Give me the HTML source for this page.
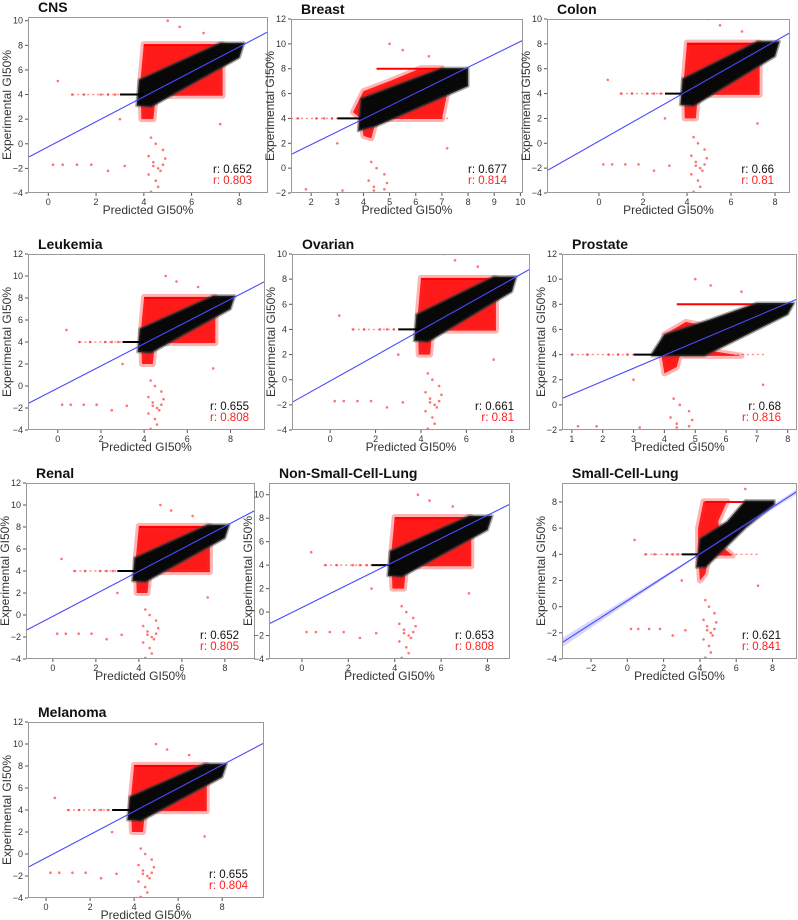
<!DOCTYPE html>
<html><head><meta charset="utf-8"><style>
html,body{margin:0;padding:0;background:#fff;}
svg{display:block;font-family:"Liberation Sans",sans-serif;}
</style></head><body>
<svg id="fig" width="798" height="920" viewBox="0 0 798 920" xmlns="http://www.w3.org/2000/svg"></svg>
<script>
// ---- data ----
const panelNames = ["CNS","Breast","Colon","Leukemia","Ovarian","Prostate","Renal","Non-Small-Cell-Lung","Small-Cell-Lung","Melanoma"];
const rBlack = ["0.652","0.677","0.66","0.655","0.661","0.68","0.652","0.653","0.621","0.655"];
const rRed = ["0.803","0.814","0.81","0.808","0.81","0.816","0.805","0.808","0.841","0.804"];
const xRanges = [[-0.85,9.2],[1.23,10.1],[-2.36,8.68],[-1.38,9.6],[-1.68,8.8],[0.68,8.3],[-1.25,9.4],[-1.42,8.97],[-3.6,9.35],[-0.82,9.9]];
const yRanges = [[-4,10.3],[-2,12],[-4,10],[-4,12],[-4,10],[-2,12],[-4,12],[-4,11],[-4,9.45],[-4,12]];
const xTicks = [[0,2,4,6,8],[2,3,4,5,6,7,8,9,10],[0,2,4,6,8],[0,2,4,6,8],[0,2,4,6,8],[1,2,3,4,5,6,7,8],[0,2,4,6,8],[0,2,4,6,8],[-2,0,2,4,6,8],[0,2,4,6,8]];
const yTicks = [[-4,-2,0,2,4,6,8,10],[-2,0,2,4,6,8,10,12],[-4,-2,0,2,4,6,8,10],[-4,-2,0,2,4,6,8,10,12],[-4,-2,0,2,4,6,8,10],[-2,0,2,4,6,8,10,12],[-4,-2,0,2,4,6,8,10,12],[-4,-2,0,2,4,6,8,10],[-4,-2,0,2,4,6,8],[-4,-2,0,2,4,6,8,10,12]];
const fitSlope = [1.015,1.037,1.005,1.011,1.011,1.037,1.023,0.982,0.892,1.054];
const fitIntercept = [-0.24,-0.18,0.17,-0.2,-0.1,-0.2,-0.12,0.39,0.46,-0.34];
// cloud outlines (data coords)
const redCloud = [[3.9,2.0],[4.4,2.0],[4.5,3.9],[7.3,3.9],[7.3,8.1],[4.0,8.1],[3.85,5.0]];
const blackCloud = [[3.7,3.1],[4.3,3.0],[8.0,7.0],[8.2,8.2],[7.2,8.2],[3.8,5.2]];
const redCloudBreast = [[4,2.6],[4.3,2.4],[4.5,3.95],[7,3.95],[7.2,6],[7,8.05],[6.2,8.05],[5,7],[4,6.2],[3.6,4.5],[3.9,4]];
const blackCloudBreast = [[3.8,3.0],[4.5,3.4],[8,6.6],[8,8.05],[7,8.05],[3.9,5.6]];
const redCloudProstate = [[4,2.5],[4.4,3],[4.5,3.9],[6.5,3.9],[5.5,4.3],[5.5,6.2],[4.7,6.6],[4.0,5.6],[3.9,4]];
const blackCloudProstate = [[3.6,3.9],[5.3,3.9],[8.0,7.2],[8.2,8.1],[7.0,8.1],[5.5,6.8],[4.0,5.6],[3.6,4.1]];
const redCloudSCLC = [[4,2],[4.3,2.5],[4.5,3.9],[5.8,3.9],[5.3,4.5],[5,6.5],[5.5,8.05],[4.2,8.05],[3.9,6],[3.9,4]];
const blackCloudSCLC = [[3.8,3.0],[4.3,3.0],[6.5,6],[8.1,7.8],[8.1,8.1],[6.5,8.1],[5.5,6.5],[4,5.2]];
const outliersX = [4.2,4.4,4.6,4.8,4.3,4.5,4.7,4.4,4.6,4.9,4.2,4.5,4.3,4.8,0.2,0.6,1.2,1.8,2.5,3.2,1.0,1.5,2.2,2.8,0.4,5.5,6.5,7.2,3.0,2.5,5.0,4.1];
const outliersY = [-1.0,-1.5,-2.0,-0.5,0.5,-3.0,-2.2,-1.8,-3.5,-1.2,-2.5,0.0,-3.9,-1.7,-1.7,-1.7,-1.7,-1.7,-2.2,-1.8,4.0,4.0,4.0,4.0,5.1,9.5,9.0,1.6,2.0,4.0,10.0,-4.0];

// ---- layout ----
const boxes = [[28,17,268,193],[291,19,523,193],[547,19,790,193],[28,254,265,430],[292,254,530,430],[562,254,797,430],[26,483,255,659],[269,483,510,659],[562,483,797,659],[28,722,264,898]];
const svg = document.getElementById('fig');
const NS = 'http://www.w3.org/2000/svg';
function mk(tag, attrs, parent){ const e=document.createElementNS(NS,tag); for(const k in attrs) e.setAttribute(k,attrs[k]); (parent||svg).appendChild(e); return e; }

panelNames.forEach((name,i)=>{
  const [x0,y0,x1,y1]=boxes[i], [xa,xb]=xRanges[i], [ya,yb]=yRanges[i];
  const sx=v=>x0+(v-xa)/(xb-xa)*(x1-x0);
  const sy=v=>y1-(v-ya)/(yb-ya)*(y1-y0);
  const g=mk('g',{});
  
  
  const clipId='c'+i;
  const cp=mk('clipPath',{id:clipId},g); mk('rect',{x:x0,y:y0,width:x1-x0,height:y1-y0},cp);
  const plot=mk('g',{'clip-path':'url(#'+clipId+')'},g);
  let rc=redCloud, bc=blackCloud, r8s=4.0, r8e=7.3;
  if(name==='Breast'){rc=redCloudBreast;bc=blackCloudBreast;r8s=4.5;r8e=7.0;}
  if(name==='Prostate'){rc=redCloudProstate;bc=blackCloudProstate;r8s=4.4;r8e=7.0;}
  if(name==='Small-Cell-Lung'){rc=redCloudSCLC;bc=blackCloudSCLC;r8s=4.3;r8e=6.8;}
  outliersX.forEach((ox,k)=>{
    const c=mk('circle',{cx:sx(ox),cy:sy(outliersY[k]),r:1.3,fill:'rgba(255,0,0,0.55)'},plot);
    
    
  });
  const rl=mk('line',{x1:sx(Math.max(xa,1.0)),x2:sx(7.3),y1:sy(4),y2:sy(4),stroke:'rgba(255,0,0,0.45)','stroke-width':1.4,'stroke-dasharray':'2 3'},plot);
   
  const rp=mk('polygon',{points:rc.map(p=>sx(p[0])+','+sy(p[1])).join(' '),fill:'#ff1a1a',stroke:'rgba(255,40,40,0.35)','stroke-width':6,'stroke-linejoin':'round'},plot);
  
  
  const r8=mk('line',{x1:sx(r8s),x2:sx(r8e),y1:sy(8),y2:sy(8),stroke:'#ff0000','stroke-width':2},plot);
   
  const bp=mk('polygon',{points:bc.map(p=>sx(p[0])+','+sy(p[1])).join(' '),fill:'#080808',stroke:'rgba(60,60,60,0.45)','stroke-width':3,'stroke-linejoin':'round'},plot);
  
  
  const bl=mk('line',{x1:sx(3.0),x2:sx(4.0),y1:sy(4),y2:sy(4),stroke:'#000','stroke-width':2},plot);
   
  if(name==='Small-Cell-Lung'){
    const band=mk('polygon',{points:[sx(xa)+','+sy(fitSlope[i]*xa+fitIntercept[i]+0.35),sx(4)+','+sy(fitSlope[i]*4+fitIntercept[i]+0.05),sx(xb)+','+sy(fitSlope[i]*xb+fitIntercept[i]+0.2),sx(xb)+','+sy(fitSlope[i]*xb+fitIntercept[i]-0.2),sx(4)+','+sy(fitSlope[i]*4+fitIntercept[i]-0.05),sx(xa)+','+sy(fitSlope[i]*xa+fitIntercept[i]-0.35)].join(' '),fill:'rgba(90,90,255,0.25)'},plot);
     
  }
  const fl=mk('line',{x1:sx(xa),y1:sy(fitSlope[i]*xa+fitIntercept[i]),x2:sx(xb),y2:sy(fitSlope[i]*xb+fitIntercept[i]),stroke:'#4a4aff','stroke-width':1.1},plot);
   
  const fr=mk('rect',{x:x0+0.5,y:y0+0.5,width:x1-x0-1,height:y1-y0-1,fill:'none',stroke:'#999','stroke-width':1},g);
   
  xTicks[i].forEach(t=>{
    mk('line',{x1:sx(t),x2:sx(t),y1:y1,y2:y1+3,stroke:'#555'},g);
    const tx=mk('text',{x:sx(t),y:y1+12,'font-size':9,'text-anchor':'middle',fill:'#333'},g); tx.textContent=t<0?'\u2212'+(-t):t;
     
  });
  yTicks[i].forEach(t=>{
    mk('line',{x1:x0-3,x2:x0,y1:sy(t),y2:sy(t),stroke:'#555'},g);
    const ty=mk('text',{x:x0-5,y:sy(t)+3,'font-size':9,'text-anchor':'end',fill:'#333'},g); ty.textContent=t<0?'\u2212'+(-t):t;
     
  });
  const xl=mk('text',{x:(x0+x1)/2,y:y1+21,'font-size':12,'text-anchor':'middle',fill:'#333'},g); xl.textContent='Predicted GI50%';
   
  const yl=mk('text',{x:0,y:0,'font-size':12,'text-anchor':'middle',fill:'#333',transform:'translate('+(x0-17)+','+((y0+y1)/2)+') rotate(-90)'},g); yl.textContent='Experimental GI50%';
   
  const ti=mk('text',{x:x0+10,y:y0-5,'font-size':14,'font-weight':'bold',fill:'#111'},g); ti.textContent=name;
   
  const rb=mk('text',{x:x1-16,y:y1-20,'font-size':11.5,'text-anchor':'end',fill:'#111'},g); rb.textContent='r: '+rBlack[i];
   
  const rr=mk('text',{x:x1-16,y:y1-9,'font-size':11.5,'text-anchor':'end',fill:'#ff2020'},g); rr.textContent='r: '+rRed[i];
   
});
</script>
</body></html>
